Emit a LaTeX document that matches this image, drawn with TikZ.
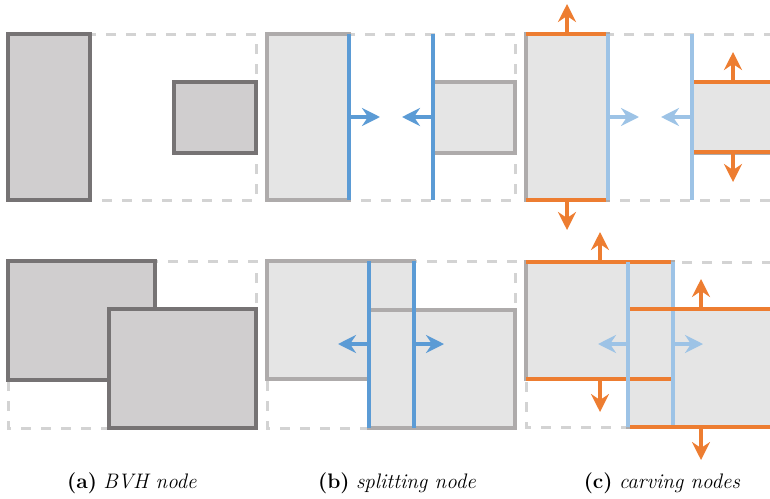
\documentclass[tikz,border=0pt]{standalone}
\usepackage{fontspec}
\usetikzlibrary{arrows.meta}
\definecolor{boxdark}{HTML}{D0CECF}
\definecolor{edgedark}{HTML}{767374}
\definecolor{boxlight}{HTML}{E5E5E5}
\definecolor{edgelight}{HTML}{AEABAB}
\definecolor{dashgray}{HTML}{D3D3D3}
\definecolor{splitblue}{HTML}{5B9BD5}
\definecolor{paleblue}{HTML}{9DC3E6}
\definecolor{carveorange}{HTML}{ED7D31}
\begin{document}
\begin{tikzpicture}[x=1pt,y=-1pt,
    bound/.style={dashgray, line width=3pt, dash pattern=on 10pt off 10pt},
    bvh/.style={draw=edgedark, fill=boxdark, line width=3.2pt},
    child/.style={draw=edgelight, fill=boxlight, line width=3.2pt},
    plane/.style={splitblue, line width=4.5pt},
    paleplane/.style={paleblue, line width=4.5pt},
    cut/.style={carveorange, line width=4.5pt},
    tip/.style={-{Stealth[length=18pt,width=18pt,inset=6pt]}},
    push/.style={plane, line width=3.8pt, tip},
    palepush/.style={paleplane, line width=3.8pt, tip},
    carve/.style={cut, line width=3.8pt, tip},
    caption/.style={anchor=base, font=\fontsize{21}{24}\selectfont}]
    \useasboundingbox (0,0) rectangle (770,498);
    \clip (0,0) rectangle (770,498);
    %BVH node, top
    \draw[bound] (8,34) rectangle (256,200);
    \draw[bvh] (8,34) rectangle (90,200);
    \draw[bvh] (174,82) rectangle (256,153);
    %Splitting node, top
    \draw[bound] (267,34) rectangle (515,200);
    \draw[child] (267,34) rectangle (349,200);
    \draw[child] (433,82) rectangle (515,153);
    \draw[plane] (349,34) -- (349,200);
    \draw[plane] (433,34) -- (433,200);
    \draw[push] (349,117) -- (380,117);
    \draw[push] (433,117) -- (402,117);
    %Carving nodes, top
    \draw[bound] (526,34) rectangle (774,200);
    \draw[child] (526,34) rectangle (608,200);
    \draw[child] (692,82) rectangle (774,153);
    \draw[paleplane] (608,34) -- (608,200);
    \draw[paleplane] (692,34) -- (692,200);
    \draw[cut] (526,34) -- (606,34);
    \draw[cut] (526,200) -- (606,200);
    \draw[cut] (694,82) -- (774,82);
    \draw[cut] (694,152) -- (774,152);
    \draw[palepush] (608,117) -- (639,117);
    \draw[palepush] (692,117) -- (661,117);
    \draw[carve] (567,34) -- (567,4);
    \draw[carve] (567,200) -- (567,230);
    \draw[carve] (733,82) -- (733,52);
    \draw[carve] (733,152) -- (733,182);
    %BVH node, bottom
    \draw[bound] (8,261) rectangle (256,428);
    \draw[bvh] (8,261) rectangle (155,380);
    \draw[bvh] (109,309) rectangle (256,428);
    %Splitting node, bottom
    \draw[bound] (267,261) rectangle (515,428);
    \draw[child] (267,261) rectangle (414,379);
    \draw[child] (369,310) rectangle (515,428);
    \draw[plane] (369,261) -- (369,428);
    \draw[plane] (414,261) -- (414,428);
    \draw[push] (369,344) -- (338,344);
    \draw[push] (414,344) -- (444,344);
    %Carving nodes, bottom
    \draw[bound] (526,262) rectangle (774,427);
    \draw[child] (526,262) rectangle (673,379);
    \draw[child] (628,309) rectangle (774,427);
    \draw[cut] (526,262) -- (671,262);
    \draw[cut] (526,379) -- (671,379);
    \draw[paleplane] (628,262) -- (628,427);
    \draw[paleplane] (673,262) -- (673,427);
    \draw[cut] (630,309) -- (774,309);
    \draw[cut] (630,427) -- (774,427);
    \draw[palepush] (628,344) -- (598,344);
    \draw[palepush] (673,344) -- (703,344);
    \draw[carve] (600,262) -- (600,232);
    \draw[carve] (600,379) -- (600,412);
    \draw[carve] (701,309) -- (701,279);
    \draw[carve] (701,427) -- (701,460);
    %Captions
    \node[caption] (capa) at (132,488) {\textbf{(a)} \textit{BVH node}};
    \node[caption] (capb) at (397,488) {\textbf{(b)} \textit{splitting node}};
    \node[caption] (capc) at (662,488) {\textbf{(c)} \textit{carving nodes}};
\end{tikzpicture}
\end{document}
